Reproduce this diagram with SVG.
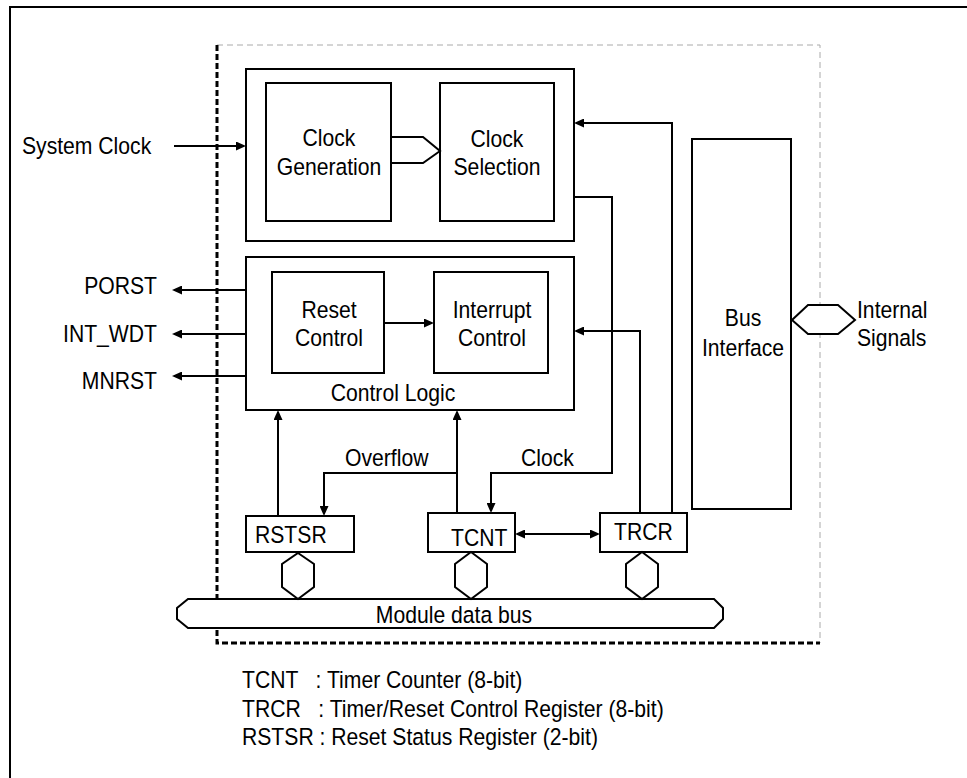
<svg xmlns="http://www.w3.org/2000/svg" width="967" height="778" viewBox="0 0 967 778">
<style>
  .box { fill: #fff; stroke: #000; stroke-width: 2; }
  .ln { fill: none; stroke: #000; stroke-width: 2; stroke-linejoin: miter; }
  .arr { marker-end: url(#ah); }
  .shape { fill: #fff; stroke: #000; stroke-width: 2; stroke-linejoin: miter; }
  text { font-family: "Liberation Sans", Arial, sans-serif; font-size: 23.5px; fill: #000; }
  .c { text-anchor: middle; }
  .e { text-anchor: end; }
</style>
<defs>
  <marker id="ah" markerUnits="userSpaceOnUse" markerWidth="10" markerHeight="9" refX="8" refY="4.5" orient="auto-start-reverse">
    <path d="M0,0 L10,4.5 L0,9 z" fill="#000"/>
  </marker>
</defs>
<rect width="967" height="778" fill="#fff"/>

<g id="frame">
  <path class="ln" d="M10,778 V7 H967"/>
</g>

<g id="module-boundary">
  <path d="M217,45 H820 V643" fill="none" stroke="#aaa" stroke-width="1" stroke-dasharray="6 4"/>
  <path d="M217,45 V643 H820" fill="none" stroke="#000" stroke-width="3" stroke-dasharray="6 3"/>
</g>

<g id="clock-unit">
  <rect class="box" x="246" y="69" width="328" height="172"/>
</g>
<g id="clock-generation">
  <rect class="box" x="266" y="83" width="125" height="138"/>
  <text class="c" transform="matrix(0.9 0 0 1 329 146)">Clock</text>
  <text class="c" transform="matrix(0.9 0 0 1 329 175)">Generation</text>
</g>
<g id="clock-selection">
  <rect class="box" x="440" y="83" width="114" height="138"/>
  <text class="c" transform="matrix(0.9 0 0 1 497 147)">Clock</text>
  <text class="c" transform="matrix(0.9 0 0 1 497 175)">Selection</text>
</g>

<g id="control-logic">
  <rect class="box" x="246" y="257" width="328" height="153"/>
  <text class="c" transform="matrix(0.9 0 0 1 393 401)">Control Logic</text>
</g>
<g id="reset-control">
  <rect class="box" x="272" y="272" width="112" height="101"/>
  <text class="c" transform="matrix(0.9 0 0 1 329 318)">Reset</text>
  <text class="c" transform="matrix(0.9 0 0 1 329 346)">Control</text>
</g>
<g id="interrupt-control">
  <rect class="box" x="434" y="272" width="114" height="101"/>
  <text class="c" transform="matrix(0.9 0 0 1 492 318)">Interrupt</text>
  <text class="c" transform="matrix(0.9 0 0 1 492 346)">Control</text>
</g>

<g id="bus-interface">
  <rect class="box" x="692" y="139" width="99" height="370"/>
  <text class="c" transform="matrix(0.9 0 0 1 743 326)">Bus</text>
  <text class="c" transform="matrix(0.9 0 0 1 743 356)">Interface</text>
</g>

<g id="rstsr">
  <rect class="box" x="246" y="516" width="108" height="36"/>
  <text transform="matrix(0.9 0 0 1 255 543)">RSTSR</text>
</g>
<g id="tcnt">
  <rect class="box" x="428" y="513" width="87" height="39"/>
  <text transform="matrix(0.9 0 0 1 451 546)">TCNT</text>
</g>
<g id="trcr">
  <rect class="box" x="600" y="513" width="87" height="39"/>
  <text transform="matrix(0.9 0 0 1 614 540)">TRCR</text>
</g>

<g id="module-data-bus">
  <polygon class="shape" points="188,599 714,599 723,608 723,619 714,628 188,628 177,619 177,608"/>
  <text class="c" transform="matrix(0.9 0 0 1 454 623)">Module data bus</text>
</g>

<g id="labels">
  <text transform="matrix(0.9 0 0 1 22 154)">System Clock</text>
  <text class="e" transform="matrix(0.9 0 0 1 157 294)">PORST</text>
  <text class="e" transform="matrix(0.9 0 0 1 157 342)">INT_WDT</text>
  <text class="e" transform="matrix(0.9 0 0 1 157 389)">MNRST</text>
  <text transform="matrix(0.9 0 0 1 857 318)">Internal</text>
  <text transform="matrix(0.9 0 0 1 857 346)">Signals</text>
  <text transform="matrix(0.9 0 0 1 345 466)">Overflow</text>
  <text transform="matrix(0.9 0 0 1 521 466)">Clock</text>
</g>

<g id="connectors">
  <path class="ln arr" d="M174,146 H244"/>
  <path class="ln arr" d="M246,290 H174"/>
  <path class="ln arr" d="M246,334 H174"/>
  <path class="ln arr" d="M246,376 H174"/>
  <path class="ln" d="M391,137 H423 L440,151 L423,163 H391"/>
  <path class="ln arr" d="M384,323 H432"/>
  <path class="ln arr" d="M574,197 H612 V473 H491 V511"/>
  <path class="ln arr" d="M672,513 V123 H576"/>
  <path class="ln arr" d="M640,513 V331 H576"/>
  <path class="ln arr" d="M278,516 V412"/>
  <path class="ln arr" d="M457,513 V412"/>
  <path class="ln arr" d="M457,473 H324 V514"/>
  <path class="ln arr" d="M517,534 H598" marker-start="url(#ah)"/>
  <polygon class="shape" points="298,553 314,564 314,587 298,599 282,587 282,564"/>
  <polygon class="shape" points="471,552 487,564 487,587 471,599 455,587 455,564"/>
  <polygon class="shape" points="642,552 658,564 658,587 642,599 626,587 626,564"/>
  <polygon class="shape" points="792,320 808,305 838,305 855,320 838,334 808,334"/>
</g>

<g id="legend">
  <text transform="matrix(0.9 0 0 1 242 688)" xml:space="preserve">TCNT   : Timer Counter (8-bit)</text>
  <text transform="matrix(0.9 0 0 1 242 717)" xml:space="preserve">TRCR   : Timer/Reset Control Register (8-bit)</text>
  <text transform="matrix(0.9 0 0 1 242 745)" xml:space="preserve">RSTSR : Reset Status Register (2-bit)</text>
</g>
</svg>
